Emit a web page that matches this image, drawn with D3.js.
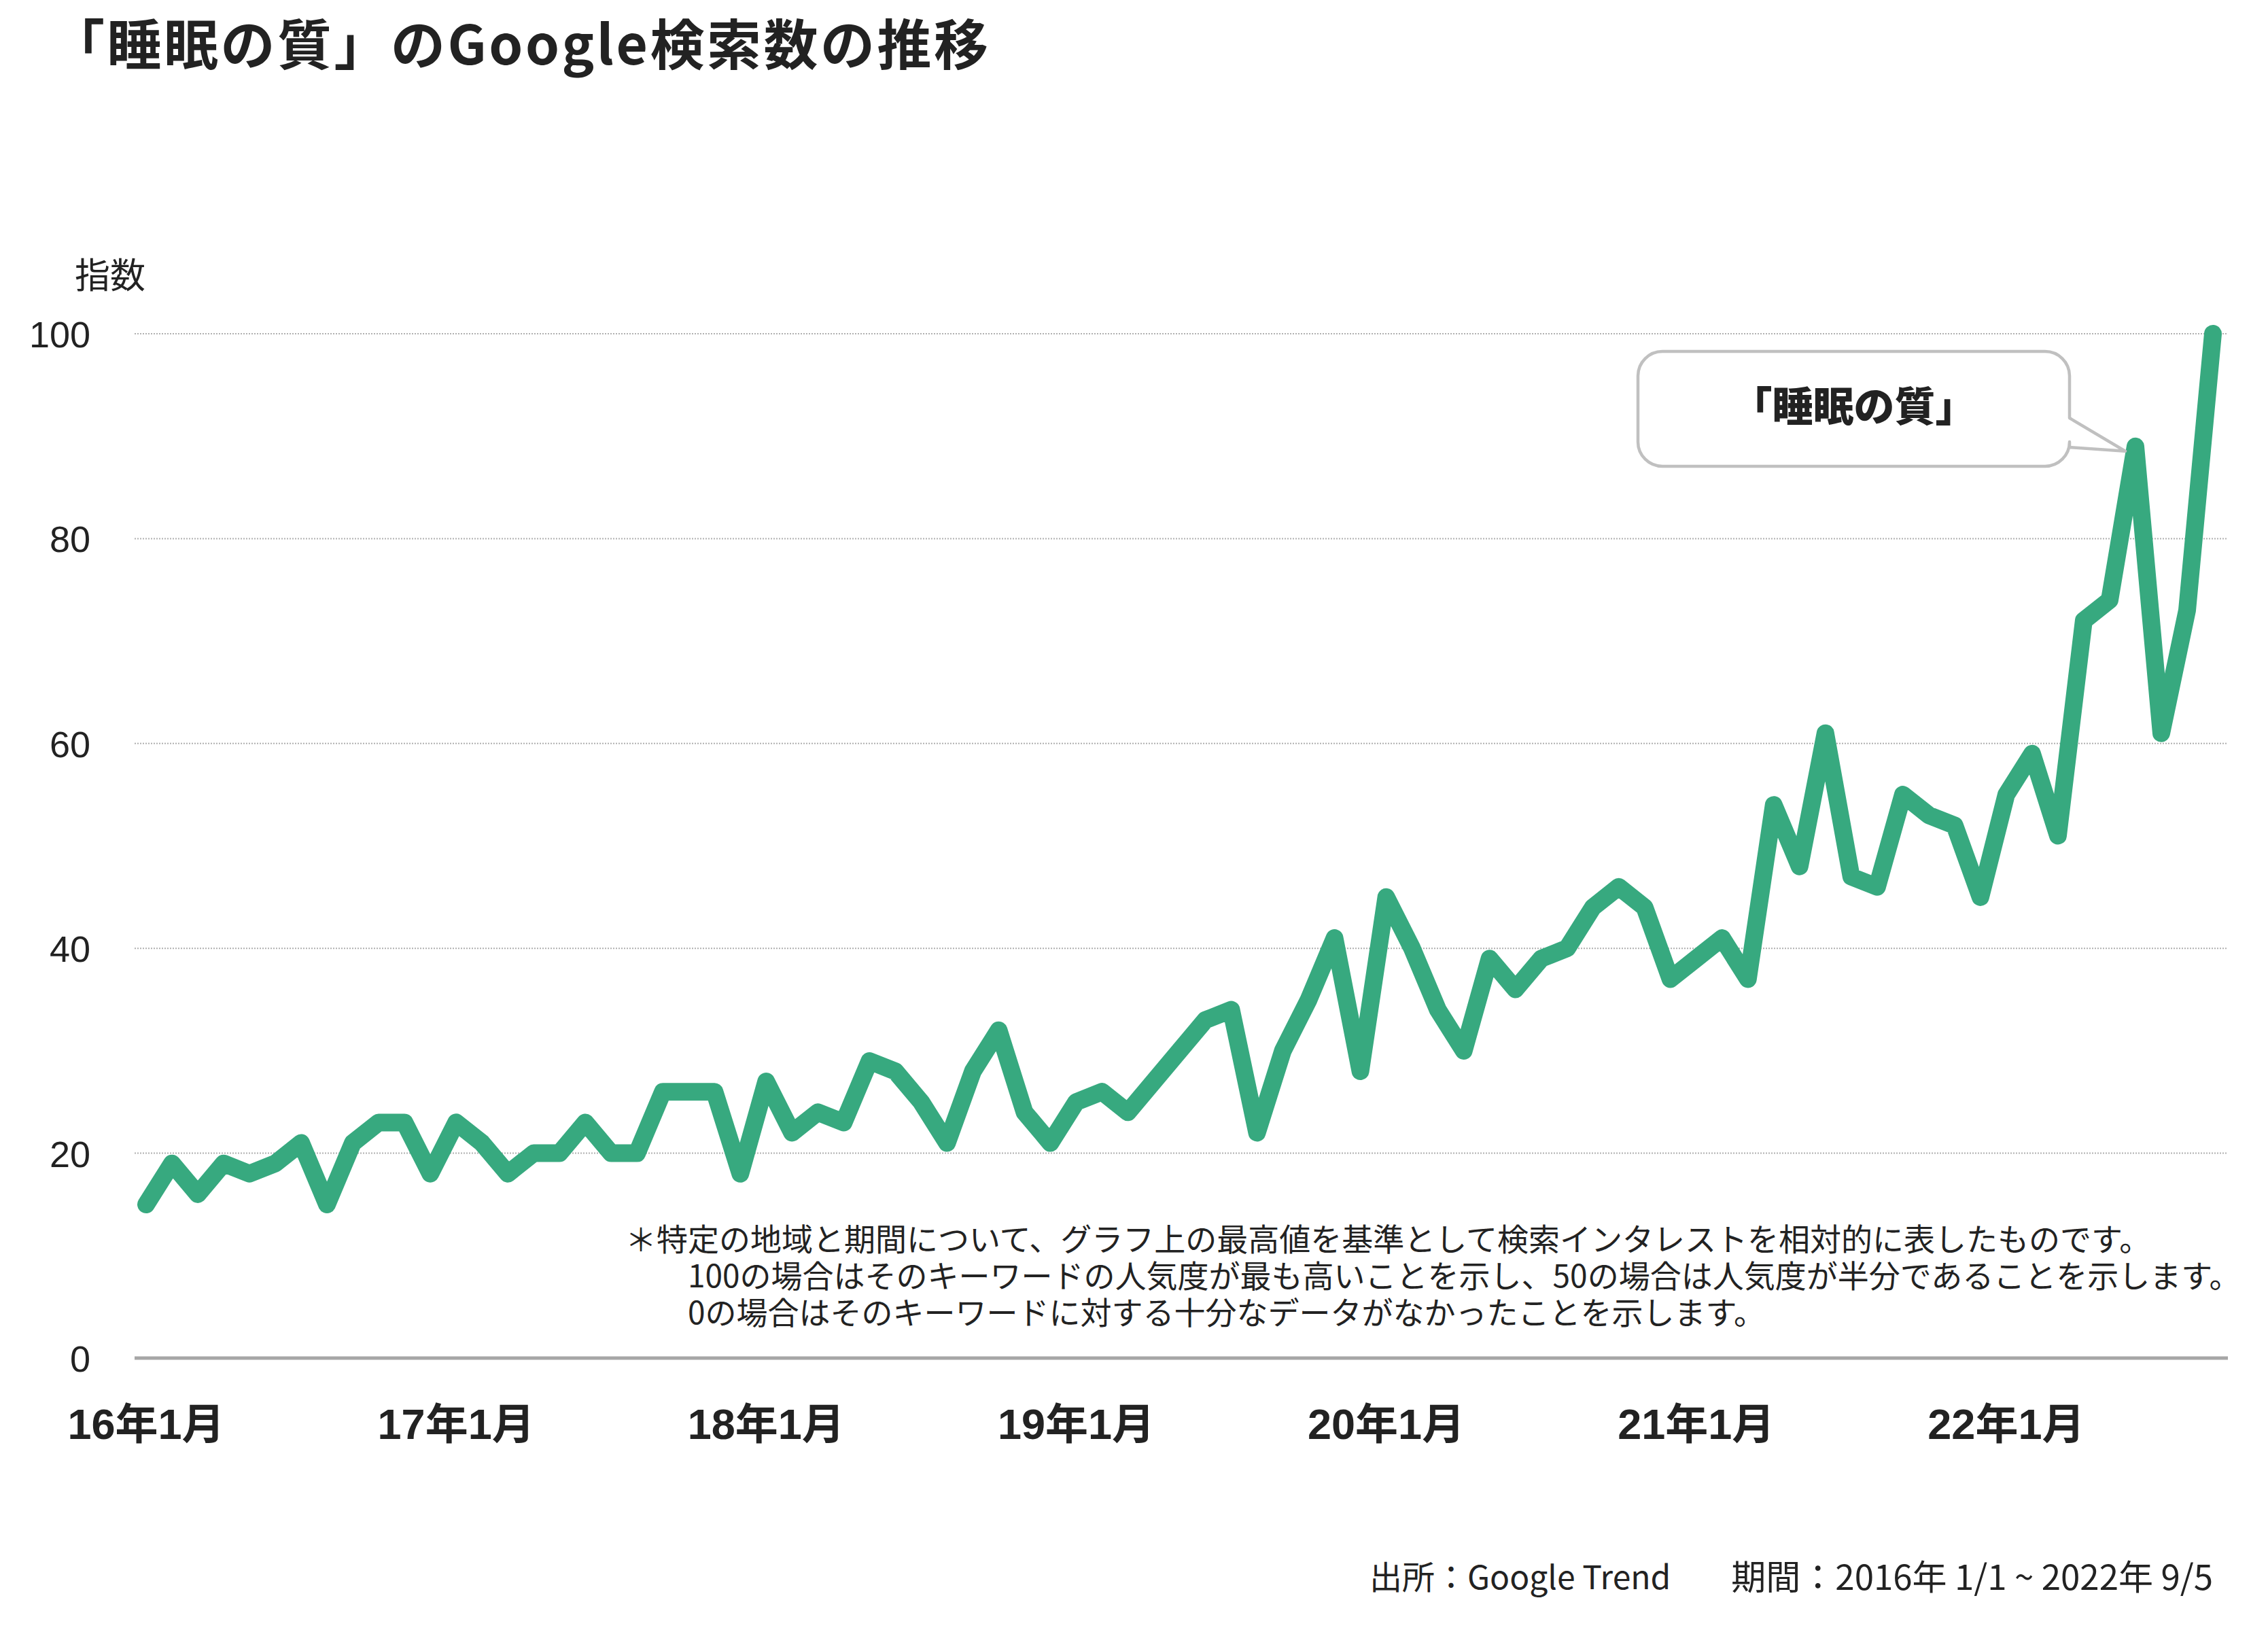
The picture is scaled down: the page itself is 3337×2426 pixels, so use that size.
<!DOCTYPE html>
<html lang="ja">
<head>
<meta charset="utf-8">
<script src="https://cdn.jsdelivr.net/npm/d3@7"></script>
<style>
  html, body { margin: 0; padding: 0; background: #ffffff; }
  svg { display: block; }
</style>
</head>
<body>
<script>
// ---- data ----
const title = "「睡眠の質」のGoogle検索数の推移";
const yAxisTitle = "指数";
// monthly index values, 2016-01 .. 2022-09
const values = [
  15, 19, 16, 19, 18, 19, 21, 15, 21, 23, 23, 18,   // 2016
  23, 21, 18, 20, 20, 23, 20, 20, 26, 26, 26, 18,   // 2017
  27, 22, 24, 23, 29, 28, 25, 21, 28, 32, 24, 21,   // 2018
  25, 26, 24, 27, 30, 33, 34, 22, 30, 35, 41, 28,   // 2019
  45, 40, 34, 30, 39, 36, 39, 40, 44, 46, 44, 37,   // 2020
  39, 41, 37, 54, 48, 61, 47, 46, 55, 53, 52, 45,   // 2021
  55, 59, 51, 72, 74, 89, 61, 73, 100               // 2022
];
const xTickIndex = [0, 12, 24, 36, 48, 60, 72];
const xTickLabels = ["16年1月", "17年1月", "18年1月", "19年1月", "20年1月", "21年1月", "22年1月"];
const yTicks = [0, 20, 40, 60, 80, 100];
const calloutLabel = "「睡眠の質」";
const calloutIndex = 77;
const noteLines = [
  "＊特定の地域と期間について、グラフ上の最高値を基準として検索インタレストを相対的に表したものです。",
  "100の場合はそのキーワードの人気度が最も高いことを示し、50の場合は人気度が半分であることを示します。",
  "0の場合はそのキーワードに対する十分なデータがなかったことを示します。"
];
const sourceText = "出所：Google Trend";
const periodText = "期間：2016年 1/1 ~ 2022年 9/5";

// ---- layout ----
const W = 3337, H = 2426;
const jp = "'Noto Sans CJK JP', 'Noto Sans', sans-serif";
const num = "'Liberation Sans', Arial, 'Noto Sans CJK JP', sans-serif";
const ink = "#222222";

const svg = d3.select("body").append("svg")
  .attr("width", W).attr("height", H)
  .attr("viewBox", `0 0 ${W} ${H}`);
svg.append("rect").attr("width", W).attr("height", H).attr("fill", "#fff");

const x = d3.scaleLinear().domain([0, values.length - 1]).range([215, 3256]);
const y = d3.scaleLinear().domain([0, 100]).range([1998, 491]);
const gridX0 = 198, gridX1 = 3277;

// title
svg.append("text")
  .attr("x", 74).attr("y", 95)
  .attr("font-family", jp).attr("font-weight", 700)
  .attr("font-size", 80).attr("letter-spacing", 3.5).attr("fill", ink)
  .text(title);

// y-axis title
svg.append("text")
  .attr("x", 110).attr("y", 401)
  .attr("dominant-baseline", "central")
  .attr("font-family", jp).attr("font-size", 52).attr("fill", ink)
  .text(yAxisTitle);

// gridlines
svg.append("g").selectAll("line")
  .data(yTicks.filter(d => d > 0))
  .join("line")
  .attr("x1", gridX0).attr("x2", gridX1)
  .attr("y1", d => y(d)).attr("y2", d => y(d))
  .attr("stroke", "#b0b0b0").attr("stroke-width", 2)
  .attr("stroke-dasharray", "2,2");

// baseline
svg.append("line")
  .attr("x1", gridX0).attr("x2", gridX1 + 1)
  .attr("y1", y(0)).attr("y2", y(0))
  .attr("stroke", "#a6a6a6").attr("stroke-width", 5);

// y tick labels
svg.append("g").selectAll("text")
  .data(yTicks)
  .join("text")
  .attr("x", 133).attr("y", d => y(d) + 1)
  .attr("text-anchor", "end")
  .attr("dominant-baseline", "central")
  .attr("font-family", num).attr("font-size", 54).attr("fill", ink)
  .text(d => d);

// x tick labels
svg.append("g").selectAll("text")
  .data(xTickIndex)
  .join("text")
  .attr("x", d => x(d)).attr("y", 2095)
  .attr("text-anchor", "middle")
  .attr("dominant-baseline", "central")
  .attr("font-family", num).attr("font-weight", 700)
  .attr("font-size", 63).attr("fill", ink)
  .text((d, i) => xTickLabels[i]);

// note text (one block, three lines)
const note = svg.append("text")
  .attr("font-family", jp).attr("font-size", 46).attr("fill", ink);
note.selectAll("tspan")
  .data(noteLines)
  .join("tspan")
  .attr("x", (d, i) => i === 0 ? 920 : 1012)
  .attr("y", (d, i) => [1840, 1894, 1948][i])
  .text(d => d);

// line
const line = d3.line()
  .x((d, i) => x(i))
  .y(d => y(d));
svg.append("path")
  .datum(values)
  .attr("d", line)
  .attr("fill", "none")
  .attr("stroke", "#37a97f")
  .attr("stroke-width", 26)
  .attr("stroke-linejoin", "round")
  .attr("stroke-linecap", "round");

// callout
const bx0 = 2410, by0 = 517, bx1 = 3045, by1 = 686, r = 36;
const tipX = x(calloutIndex) - 15, tipY = y(values[calloutIndex]) + 7;
const p = d3.path();
p.moveTo(bx0 + r, by0);
p.lineTo(bx1 - r, by0);
p.arcTo(bx1, by0, bx1, by0 + r, r);
p.lineTo(bx1, 615);
p.lineTo(tipX, tipY);
p.lineTo(bx1, 658);
p.lineTo(bx1, by1 - r);
p.arcTo(bx1, by1, bx1 - r, by1, r);
p.lineTo(bx0 + r, by1);
p.arcTo(bx0, by1, bx0, by1 - r, r);
p.lineTo(bx0, by0 + r);
p.arcTo(bx0, by0, bx0 + r, by0, r);
p.closePath();
svg.append("path")
  .attr("d", p.toString())
  .attr("fill", "#fff")
  .attr("stroke", "#c0c0c0")
  .attr("stroke-width", 4.5)
  .attr("stroke-linejoin", "round");
svg.append("text")
  .attr("x", (bx0 + bx1) / 2).attr("y", 593)
  .attr("text-anchor", "middle")
  .attr("dominant-baseline", "central")
  .attr("font-family", jp).attr("font-weight", 900)
  .attr("font-size", 60).attr("fill", ink)
  .text(calloutLabel);

// footer
svg.append("text")
  .attr("x", 2015).attr("y", 2317)
  .attr("dominant-baseline", "central")
  .attr("font-family", jp).attr("font-size", 48).attr("fill", ink)
  .text(sourceText);
svg.append("text")
  .attr("x", 3256).attr("y", 2317)
  .attr("text-anchor", "end")
  .attr("dominant-baseline", "central")
  .attr("font-family", jp).attr("font-size", 51).attr("fill", ink)
  .text(periodText);
</script>
</body>
</html>
